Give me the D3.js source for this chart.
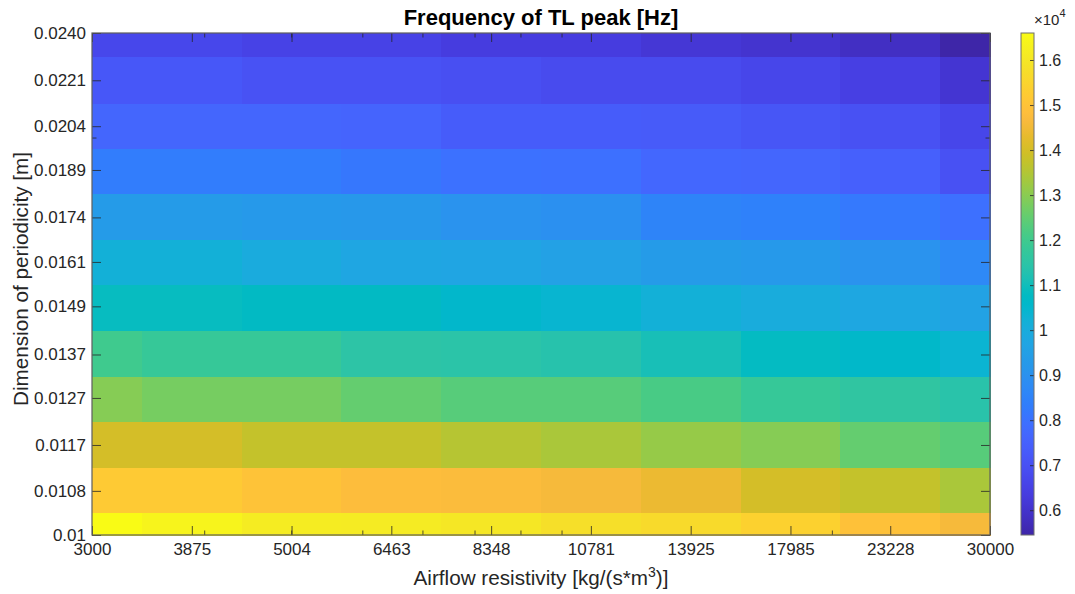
<!DOCTYPE html>
<html><head><meta charset="utf-8">
<script src="https://cdn.jsdelivr.net/npm/d3@7"></script>
<style>body{margin:0;background:#fff}svg{display:block;font-family:"Liberation Sans",Arial,Helvetica,sans-serif}</style>
</head><body><svg id="c" width="1075" height="594"></svg>
<script>
// Airflow resistivity [kg/(s*m^3)] (columns)
const xVals = [3000, 3875, 5004, 6463, 8348, 10781, 13925, 17985, 23228, 30000];
const xTickLabels = ["3000", "3875", "5004", "6463", "8348", "10781", "13925", "17985", "23228", "30000"];
const xMinorTicks = [4000, 5000, 6000, 7000, 8000, 9000, 10000, 20000];
// Dimension of periodicity [m] (rows, bottom to top)
const yVals = [0.0100, 0.0108, 0.0117, 0.0127, 0.0137, 0.0149, 0.0161, 0.0174, 0.0189, 0.0204, 0.0221, 0.0240];
const yTickLabels = ["0.01", "0.0108", "0.0117", "0.0127", "0.0137", "0.0149", "0.0161", "0.0174", "0.0189", "0.0204", "0.0221", "0.0240"];
const yMinorTicks = [0.02];
// Frequency of TL peak [Hz], one row per yVals entry (bottom to top), one value per xVals entry
const row0100 = [16600, 16400, 16150, 16120, 16000, 15800, 15650, 15400, 14950, 14600];
const row0108 = [15200, 15200, 15000, 14800, 14750, 14600, 14400, 14000, 13750, 13400];
const row0117 = [14000, 14000, 13750, 13750, 13550, 13400, 13150, 12950, 12530, 12350];
const row0127 = [12950, 12750, 12750, 12530, 12350, 12350, 12150, 11800, 11600, 11400];
const row0137 = [12000, 11800, 11800, 11500, 11450, 11350, 11100, 10800, 10600, 10350];
const row0149 = [10850, 10850, 10750, 10750, 10550, 10400, 10200, 10000, 9800, 9600];
const row0161 = [10200, 10200, 9950, 9750, 9700, 9550, 9350, 9250, 9050, 8700];
const row0174 = [9350, 9350, 9250, 9200, 9050, 8950, 8550, 8450, 8200, 7950];
const row0189 = [8300, 8300, 8300, 8150, 8000, 7950, 7700, 7650, 7450, 7000];
const row0204 = [7650, 7650, 7650, 7600, 7350, 7350, 7300, 7150, 7000, 6650];
const row0221 = [7200, 7200, 7050, 7050, 6950, 6800, 6800, 6650, 6450, 6100];
const row0240 = [6700, 6700, 6550, 6550, 6350, 6350, 6150, 6050, 5850, 5450];
const freq = [row0100, row0108, row0117, row0127, row0137, row0149, row0161, row0174, row0189, row0204, row0221, row0240];
// colorbar ticks
const cbTicks = [6000, 7000, 8000, 9000, 10000, 11000, 12000, 13000, 14000, 15000, 16000];
// parula colormap (64 entries)
const parula = [
[0.2422,0.1504,0.6603],[0.2504,0.1650,0.7076],[0.2578,0.1818,0.7511],[0.2647,0.1978,0.7952],
[0.2706,0.2147,0.8364],[0.2751,0.2342,0.8710],[0.2783,0.2559,0.8991],[0.2803,0.2782,0.9221],
[0.2813,0.3006,0.9414],[0.2810,0.3228,0.9579],[0.2795,0.3447,0.9717],[0.2760,0.3667,0.9829],
[0.2699,0.3892,0.9906],[0.2602,0.4123,0.9952],[0.2440,0.4358,0.9988],[0.2206,0.4603,0.9973],
[0.1963,0.4847,0.9892],[0.1834,0.5074,0.9798],[0.1786,0.5289,0.9682],[0.1764,0.5499,0.9520],
[0.1687,0.5703,0.9359],[0.1540,0.5902,0.9218],[0.1460,0.6091,0.9079],[0.1380,0.6276,0.8973],
[0.1248,0.6459,0.8883],[0.1113,0.6635,0.8763],[0.0952,0.6798,0.8598],[0.0689,0.6948,0.8394],
[0.0297,0.7082,0.8163],[0.0036,0.7203,0.7917],[0.0067,0.7312,0.7660],[0.0433,0.7411,0.7394],
[0.0964,0.7500,0.7120],[0.1408,0.7584,0.6842],[0.1717,0.7670,0.6554],[0.1938,0.7758,0.6251],
[0.2161,0.7843,0.5923],[0.2470,0.7918,0.5567],[0.2906,0.7973,0.5188],[0.3406,0.8008,0.4789],
[0.3909,0.8029,0.4354],[0.4456,0.8024,0.3909],[0.5044,0.7993,0.3480],[0.5616,0.7942,0.3045],
[0.6174,0.7876,0.2612],[0.6720,0.7793,0.2227],[0.7242,0.7698,0.1910],[0.7738,0.7598,0.1646],
[0.8203,0.7498,0.1535],[0.8634,0.7406,0.1596],[0.9035,0.7330,0.1774],[0.9393,0.7288,0.2100],
[0.9728,0.7298,0.2394],[0.9956,0.7434,0.2371],[0.9970,0.7659,0.2199],[0.9952,0.7893,0.2028],
[0.9892,0.8136,0.1885],[0.9786,0.8386,0.1766],[0.9676,0.8639,0.1643],[0.9610,0.8890,0.1537],
[0.9597,0.9135,0.1423],[0.9628,0.9373,0.1265],[0.9691,0.9606,0.1064],[0.9769,0.9839,0.0805]];

const svg = d3.select("#c");
svg.append("rect").attr("width",1075).attr("height",594).attr("fill","#fff");
const L = 92, R = 990, T = 33, B = 535;
const axisColor = "#262626";
const x = d3.scaleLog().domain([xVals[0], xVals[xVals.length-1]]).range([L, R]);
const y = d3.scaleLog().domain([yVals[0], yVals[yVals.length-1]]).range([B, T]);
const ext = d3.extent(freq.flat());
const cmap = d3.scaleLinear()
  .domain(parula.map((_, i) => i / (parula.length - 1)))
  .range(parula.map(c => d3.rgb(c[0]*255, c[1]*255, c[2]*255).formatHex()))
  .clamp(true);
const color = v => cmap((v - ext[0]) / (ext[1] - ext[0]));
const edges = vals => vals.map((v, i) => i === 0 ? v : Math.sqrt(vals[i-1] * v)).concat([vals[vals.length-1]]);
const xe = edges(xVals), ye = edges(yVals);

const cells = [];
freq.forEach((row, j) => row.forEach((v, i) => cells.push({i, j, v})));
svg.append("g").attr("shape-rendering","crispEdges").selectAll("rect").data(cells).join("rect")
  .attr("x", d => x(xe[d.i]))
  .attr("width", d => x(xe[d.i+1]) - x(xe[d.i]) + 0.5)
  .attr("y", d => y(ye[d.j+1]))
  .attr("height", d => y(ye[d.j]) - y(ye[d.j+1]) + 0.5)
  .attr("fill", d => color(d.v));

const tickFont = 17;
function styleAxis(g){
  g.select(".domain").remove();
  g.selectAll(".tick line").attr("stroke", axisColor).attr("stroke-width", 0.8);
  g.selectAll(".tick text").attr("fill", axisColor).attr("font-size", tickFont).attr("font-family", '"Liberation Sans",Arial,sans-serif');
}
// bottom
svg.append("g").attr("transform",`translate(0,${B})`)
  .call(d3.axisBottom(x).tickValues(xVals).tickFormat((d,i)=>xTickLabels[i]).tickSizeInner(-9).tickSizeOuter(0).tickPadding(8))
  .call(styleAxis);
svg.append("g").attr("transform",`translate(0,${B})`)
  .call(d3.axisBottom(x).tickValues(xMinorTicks).tickFormat("").tickSizeInner(-4.5).tickSizeOuter(0))
  .call(styleAxis);
// top
svg.append("g").attr("transform",`translate(0,${T})`)
  .call(d3.axisTop(x).tickValues(xVals).tickFormat("").tickSizeInner(-9).tickSizeOuter(0))
  .call(styleAxis);
svg.append("g").attr("transform",`translate(0,${T})`)
  .call(d3.axisTop(x).tickValues(xMinorTicks).tickFormat("").tickSizeInner(-4.5).tickSizeOuter(0))
  .call(styleAxis);
// left
svg.append("g").attr("transform",`translate(${L},0)`)
  .call(d3.axisLeft(y).tickValues(yVals).tickFormat((d,i)=>yTickLabels[i]).tickSizeInner(-9).tickSizeOuter(0).tickPadding(6))
  .call(styleAxis);
svg.append("g").attr("transform",`translate(${L},0)`)
  .call(d3.axisLeft(y).tickValues(yMinorTicks).tickFormat("").tickSizeInner(-4.5).tickSizeOuter(0))
  .call(styleAxis);
// right
svg.append("g").attr("transform",`translate(${R},0)`)
  .call(d3.axisRight(y).tickValues(yVals).tickFormat("").tickSizeInner(-9).tickSizeOuter(0))
  .call(styleAxis);
svg.append("g").attr("transform",`translate(${R},0)`)
  .call(d3.axisRight(y).tickValues(yMinorTicks).tickFormat("").tickSizeInner(-4.5).tickSizeOuter(0))
  .call(styleAxis);
// box
svg.append("rect").attr("x", L).attr("y", T).attr("width", R-L).attr("height", B-T)
  .attr("fill","none").attr("stroke","#5e5e5e").attr("stroke-width",1.2);

// title & labels
svg.append("text").attr("x", (L+R)/2).attr("y", 25).attr("text-anchor","middle")
  .attr("font-size",22).attr("font-weight","bold").attr("fill","#000").text("Frequency of TL peak [Hz]");
const xl = svg.append("text").attr("x",(L+R)/2).attr("y",585).attr("text-anchor","middle")
  .attr("font-size",20.7).attr("fill",axisColor);
xl.append("tspan").text("Airflow resistivity [kg/(s*m");
xl.append("tspan").attr("font-size",14).attr("dy",-8).text("3");
xl.append("tspan").attr("dy",8).text(")]");
svg.append("text").attr("transform",`translate(28,${(T+B)/2 - 5}) rotate(-90)`).attr("text-anchor","middle")
  .attr("font-size",20.7).attr("fill",axisColor).text("Dimension of periodicity [m]");

// colorbar
const cbL = 1021, cbR = 1034;
const cy = d3.scaleLinear().domain(ext).range([B, T]);
const grad = svg.append("defs").append("linearGradient").attr("id","cbg")
  .attr("x1",0).attr("y1",1).attr("x2",0).attr("y2",0);
parula.forEach((c,i)=>grad.append("stop").attr("offset", i/(parula.length-1))
  .attr("stop-color", d3.rgb(c[0]*255,c[1]*255,c[2]*255).formatHex()));
svg.append("rect").attr("x",cbL).attr("y",T).attr("width",cbR-cbL).attr("height",B-T).attr("fill","url(#cbg)");
svg.append("g").attr("transform",`translate(${cbR},0)`)
  .call(d3.axisRight(cy).tickValues(cbTicks).tickFormat(d=>String(+(d/1e4).toFixed(1))).tickSizeInner(-4).tickSizeOuter(0).tickPadding(5))
  .call(styleAxis)
  .call(g=>g.selectAll(".tick text").attr("font-size",16));
svg.append("rect").attr("x",cbL).attr("y",T).attr("width",cbR-cbL).attr("height",B-T)
  .attr("fill","none").attr("stroke","#6e6e6e").attr("stroke-width",1);
const ex = svg.append("text").attr("x",1034).attr("y",25).attr("font-size",15).attr("fill",axisColor);
ex.append("tspan").text("\u00d710");
ex.append("tspan").attr("font-size",11).attr("dy",-8).text("4");
</script></body></html>
